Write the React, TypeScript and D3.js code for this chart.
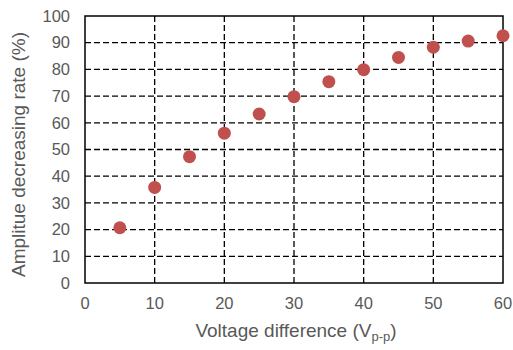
import React, { useEffect, useRef } from "react";
import * as d3 from "d3";

const voltage = [5, 10, 15, 20, 25, 30, 35, 40, 45, 50, 55, 60];
const rate = [20.7, 35.8, 47.3, 56.1, 63.3, 69.8, 75.4, 79.9, 84.5, 88.3, 90.6, 92.6];
const xTicks = [0, 10, 20, 30, 40, 50, 60];
const yTicks = [0, 10, 20, 30, 40, 50, 60, 70, 80, 90, 100];

const App = () => {
  const ref = useRef<SVGSVGElement>(null);

  useEffect(() => {
    const svg = d3.select(ref.current);
    svg.selectAll("*").remove();

    const left = 85;
    const right = 503;
    const top = 16;
    const bottom = 283;
    const font = "'Liberation Sans', Arial, sans-serif";
    const grey = "#595959";

    const x = d3.scaleLinear().domain([0, 60]).range([left, right]);
    const y = d3.scaleLinear().domain([0, 100]).range([bottom, top]);

    // grid
    svg
      .selectAll("line.vgrid")
      .data(xTicks.filter((d) => d > 0 && d < 60))
      .enter()
      .append("line")
      .attr("x1", (d) => x(d))
      .attr("x2", (d) => x(d))
      .attr("y1", top)
      .attr("y2", bottom)
      .attr("stroke", "#000")
      .attr("stroke-width", 1.3)
      .attr("stroke-dasharray", "6,3");

    svg
      .selectAll("line.hgrid")
      .data(yTicks.filter((d) => d > 0 && d < 100))
      .enter()
      .append("line")
      .attr("x1", left)
      .attr("x2", right)
      .attr("y1", (d) => y(d))
      .attr("y2", (d) => y(d))
      .attr("stroke", "#000")
      .attr("stroke-width", 1.3)
      .attr("stroke-dasharray", "6,3");

    // frame
    svg
      .append("rect")
      .attr("x", left)
      .attr("y", top)
      .attr("width", right - left)
      .attr("height", bottom - top)
      .attr("fill", "none")
      .attr("stroke", "#000")
      .attr("stroke-width", 1.5);

    // tick labels
    svg
      .selectAll("text.ytick")
      .data(yTicks)
      .enter()
      .append("text")
      .attr("x", 70)
      .attr("y", (d) => y(d))
      .attr("dy", "0.35em")
      .attr("text-anchor", "end")
      .attr("font-family", font)
      .attr("font-size", 16.5)
      .attr("fill", grey)
      .text((d) => d);

    svg
      .selectAll("text.xtick")
      .data(xTicks)
      .enter()
      .append("text")
      .attr("x", (d) => x(d))
      .attr("y", 303)
      .attr("dy", "0.35em")
      .attr("text-anchor", "middle")
      .attr("font-family", font)
      .attr("font-size", 16.5)
      .attr("fill", grey)
      .text((d) => d);

    // axis titles
    const xt = svg
      .append("text")
      .attr("x", (left + right) / 2 + 2)
      .attr("y", 337)
      .attr("text-anchor", "middle")
      .attr("font-family", font)
      .attr("font-size", 19)
      .attr("fill", grey);
    xt.append("tspan").text("Voltage difference (V");
    xt.append("tspan").attr("font-size", 13).attr("dy", 4).text("p-p");
    xt.append("tspan").attr("dy", -4).text(")");

    svg
      .append("text")
      .attr("transform", `translate(25, ${(top + bottom) / 2 + 5}) rotate(-90)`)
      .attr("text-anchor", "middle")
      .attr("font-family", font)
      .attr("font-size", 19)
      .attr("fill", grey)
      .text("Amplitue decreasing rate (%)");

    // points
    svg
      .selectAll("circle")
      .data(voltage)
      .enter()
      .append("circle")
      .attr("cx", (d) => x(d))
      .attr("cy", (d, i) => y(rate[i]))
      .attr("r", 6.5)
      .attr("fill", "#c0504d");
  }, []);

  return (
    <svg
      ref={ref}
      width={513}
      height={350}
      style={{ position: "absolute", left: 0, top: 0, background: "#fff" }}
    />
  );
};

export default App;
